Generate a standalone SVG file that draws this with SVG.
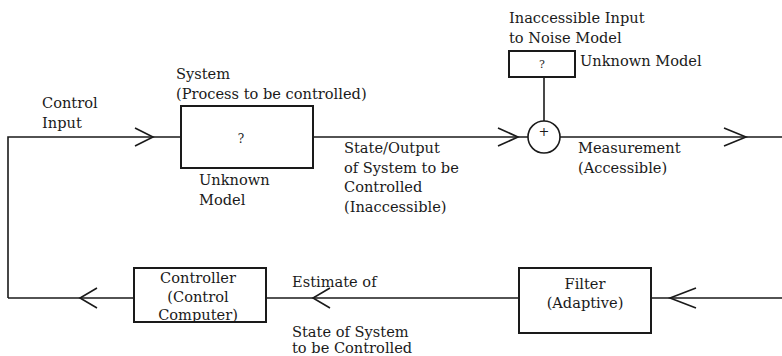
<svg xmlns="http://www.w3.org/2000/svg" width="782" height="356" viewBox="0 0 782 356">
<style>
text{font-family:"DejaVu Serif","Liberation Serif",serif;font-size:14.6px;fill:#1a1a1a}
.c{text-anchor:middle}
.box{fill:#fff;stroke:#1a1a1a;stroke-width:2}
.ln{fill:none;stroke:#1a1a1a;stroke-width:1.6}
.chev{fill:none;stroke:#1a1a1a;stroke-width:1.6}
</style>
<rect width="782" height="356" fill="#fff"/>
<g id="connectors">
<path class="ln" d="M8,298 V137 H181"/>
<path class="ln" d="M313,137 H528"/>
<path class="ln" d="M544,77 V121"/>
<path class="ln" d="M560,137 H782"/>
<path class="ln" d="M782,298 H651"/>
<path class="ln" d="M519,298 H266"/>
<path class="ln" d="M134,298 H8"/>
<path class="chev" d="M135,128 L153,137 L135,146"/>
<path class="chev" d="M498,128 L518,137 L498,146"/>
<path class="chev" d="M724,128 L746,137 L724,146"/>
<path class="chev" d="M696,288 L670,298 L696,308"/>
<path class="chev" d="M330,288 L313,298 L330,308"/>
<path class="chev" d="M97,288 L80,298 L97,308"/>
</g>
<g id="label-control-input">
<text x="42" y="108">Control</text>
<text x="42" y="128">Input</text>
</g>
<g id="system">
<text x="176" y="79">System</text>
<text x="176" y="99">(Process to be controlled)</text>
<rect class="box" x="181" y="106" width="132" height="62"/>
<text class="c" x="241" y="143" style="font-size:12px;fill:#1a1a1a">?</text>
<text x="199" y="185">Unknown</text>
<text x="199" y="205">Model</text>
</g>
<g id="label-state">
<text x="344" y="153">State/Output</text>
<text x="344" y="173">of System to be</text>
<text x="344" y="192">Controlled</text>
<text x="344" y="212">(Inaccessible)</text>
</g>
<g id="noise-model">
<text x="509" y="23">Inaccessible Input</text>
<text x="509" y="43">to Noise Model</text>
<rect class="box" x="509" y="51" width="66" height="26"/>
<text class="c" x="542" y="68" style="font-size:11px">?</text>
<text x="580" y="66">Unknown Model</text>
</g>
<g id="sum">
<circle cx="544" cy="137" r="16" fill="#fff" stroke="#1a1a1a" stroke-width="1.6"/>
<text class="c" x="544" y="136" style="font-size:13px">+</text>
</g>
<g id="label-measurement">
<text x="578" y="153">Measurement</text>
<text x="578" y="173">(Accessible)</text>
</g>
<g id="filter">
<rect class="box" x="519" y="268" width="132" height="65"/>
<text class="c" x="585" y="289">Filter</text>
<text class="c" x="585" y="308">(Adaptive)</text>
</g>
<g id="controller">
<rect class="box" x="134" y="268" width="132" height="54"/>
<text class="c" x="198" y="283">Controller</text>
<text class="c" x="198" y="302">(Control</text>
<text class="c" x="198" y="320">Computer)</text>
</g>
<g id="label-estimate">
<text x="292" y="287">Estimate of</text>
<text x="292" y="337">State of System</text>
<text x="292" y="353">to be Controlled</text>
</g>
</svg>
